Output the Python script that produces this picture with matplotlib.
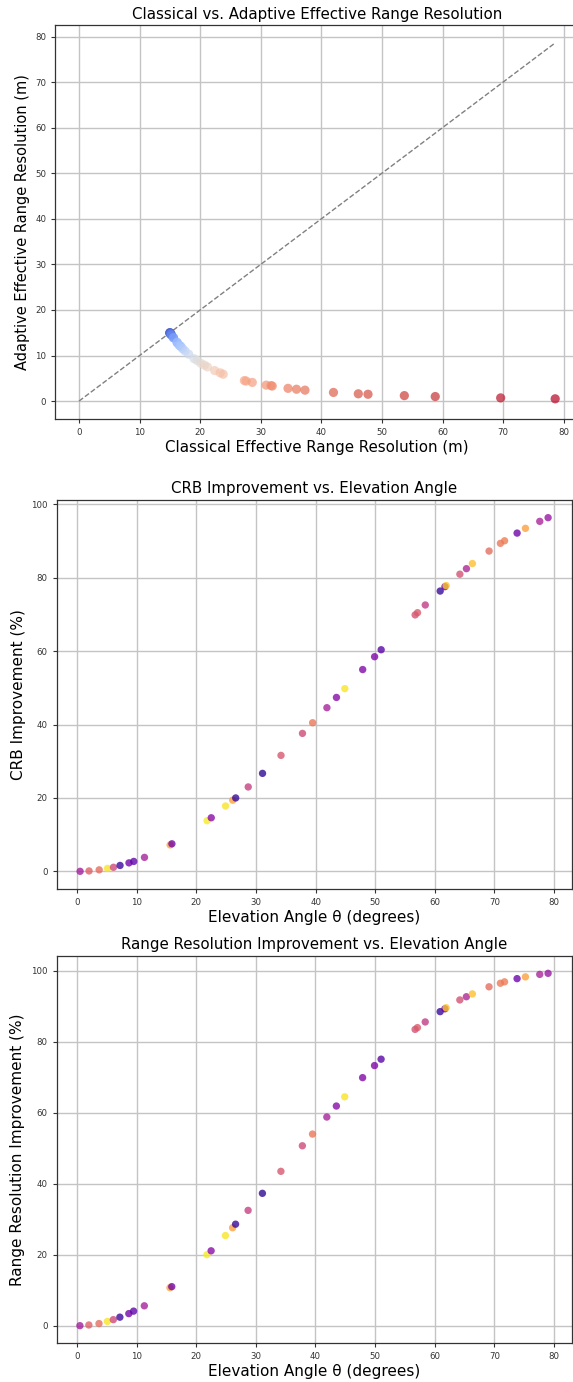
import matplotlib
matplotlib.use("Agg")
import matplotlib.pyplot as plt

# Elevation angles (degrees)
theta = [0.5, 2.0, 3.7, 5.1, 6.1, 7.2, 8.7, 9.5, 11.3, 15.6, 15.9, 21.8, 22.5,
         24.9, 26.1, 26.6, 28.7, 31.1, 34.2, 37.8, 39.5, 41.9, 43.5, 44.9, 47.9,
         49.9, 51.0, 56.7, 57.1, 58.4, 60.9, 61.7, 61.9, 64.2, 65.3, 66.3, 69.1,
         71.0, 71.7, 73.8, 75.2, 77.6, 79.0]

# Classical effective range resolution (m)
classical_res = [15.0, 15.0, 15.0, 15.1, 15.1, 15.1, 15.2, 15.2, 15.3, 15.6, 15.6,
                 16.2, 16.2, 16.5, 16.7, 16.8, 17.1, 17.5, 18.1, 19.0, 19.5, 20.1,
                 20.7, 21.2, 22.4, 23.3, 23.8, 27.3, 27.6, 28.6, 30.9, 31.7, 31.9,
                 34.5, 35.9, 37.3, 42.0, 46.1, 47.7, 53.7, 58.8, 69.6, 78.6]

# Adaptive effective range resolution (m)
adaptive_res = [15.0, 15.0, 14.9, 14.9, 14.8, 14.8, 14.7, 14.6, 14.4, 13.9, 13.9,
                12.9, 12.8, 12.3, 12.1, 12.0, 11.5, 11.0, 10.3, 9.3, 8.9, 8.3,
                7.9, 7.5, 6.7, 6.2, 5.9, 4.5, 4.4, 4.1, 3.5, 3.4, 3.3,
                2.8, 2.6, 2.4, 1.9, 1.6, 1.5, 1.2, 1.0, 0.7, 0.5]

# CRB improvement (%)
crb_impr = [0.0, 0.1, 0.4, 0.8, 1.1, 1.6, 2.3, 2.7, 3.8, 7.2, 7.5,
            13.8, 14.6, 17.8, 19.4, 20.0, 23.0, 26.7, 31.6, 37.6, 40.5, 44.6,
            47.4, 49.8, 55.0, 58.5, 60.4, 69.9, 70.5, 72.6, 76.4, 77.6, 77.9,
            81.0, 82.5, 83.9, 87.3, 89.4, 90.1, 92.2, 93.5, 95.4, 96.4]

# Range resolution improvement (%)
rr_impr = [0.0, 0.2, 0.6, 1.2, 1.7, 2.4, 3.4, 4.1, 5.6, 10.7, 11.0,
           20.0, 21.1, 25.4, 27.6, 28.6, 32.5, 37.3, 43.5, 50.7, 54.0, 58.8,
           61.9, 64.5, 69.9, 73.3, 75.1, 83.5, 84.0, 85.6, 88.5, 89.3, 89.6,
           91.8, 92.7, 93.5, 95.5, 96.5, 96.9, 97.8, 98.3, 99.0, 99.3]

# Colour value per point (plasma colormap)
color_val = [0.35, 0.58, 0.62, 0.95, 0.50, 0.08, 0.22, 0.17, 0.36, 0.80, 0.22,
             0.97, 0.28, 0.95, 0.78, 0.07, 0.47, 0.05, 0.55, 0.50, 0.65, 0.36,
             0.27, 0.95, 0.26, 0.25, 0.15, 0.53, 0.56, 0.45, 0.07, 0.20, 0.88,
             0.53, 0.38, 0.86, 0.62, 0.66, 0.67, 0.20, 0.78, 0.37, 0.32]

plt.rcParams['font.family'] = ['DejaVu Sans']
TITLE_FS = 10.8
LABEL_FS = 11
TICK_FS = 6.2

fig = plt.figure(figsize=(5.73, 13.82), dpi=100)
W, H = 573.0, 1382.0

def add_ax(left, right, top, bottom):
    return fig.add_axes([left / W, 1 - bottom / H, (right - left) / W, (bottom - top) / H])

ax1 = add_ax(55.2, 579, 25, 419)
ax2 = add_ax(56.7, 571.5, 500, 889)
ax3 = add_ax(56.5, 571.5, 955.7, 1343.3)

def style(ax):
    ax.grid(True, color='#c4c4c4', linewidth=1.0)
    ax.set_axisbelow(True)
    ax.tick_params(labelsize=TICK_FS, colors='#333333', length=3, width=0.8)
    for s in ax.spines.values():
        s.set_color('#333333')
        s.set_linewidth(0.9)

# Plot 1
ax1.scatter(classical_res, adaptive_res, c=theta, cmap='coolwarm', s=44,
            alpha=0.7, edgecolors='none', zorder=3)
mx = max(classical_res)
ax1.plot([0, mx], [0, mx], linestyle='--', color='gray', linewidth=1.0, zorder=2)
ax1.set_title('Classical vs. Adaptive Effective Range Resolution', fontsize=TITLE_FS, pad=4.5)
ax1.set_xlabel('Classical Effective Range Resolution (m)', fontsize=10.8, labelpad=2)
ax1.set_ylabel('Adaptive Effective Range Resolution (m)', fontsize=10.5)
style(ax1)

# Plot 2
ax2.scatter(theta, crb_impr, c=color_val, cmap='plasma', vmin=0, vmax=1, s=28,
            alpha=0.78, edgecolors='none', zorder=3)
ax2.set_title('CRB Improvement vs. Elevation Angle', fontsize=TITLE_FS, pad=5)
ax2.set_xlabel('Elevation Angle θ (degrees)', fontsize=LABEL_FS, labelpad=2)
ax2.set_ylabel('CRB Improvement (%)', fontsize=LABEL_FS)
style(ax2)

# Plot 3
ax3.scatter(theta, rr_impr, c=color_val, cmap='plasma', vmin=0, vmax=1, s=28,
            alpha=0.78, edgecolors='none', zorder=3)
ax3.set_title('Range Resolution Improvement vs. Elevation Angle', fontsize=TITLE_FS, pad=5)
ax3.set_xlabel('Elevation Angle θ (degrees)', fontsize=LABEL_FS, labelpad=2)
ax3.set_ylabel('Range Resolution Improvement (%)', fontsize=LABEL_FS)
style(ax3)

for ax in (ax1, ax2, ax3):
    ax.set_xticks([0, 10, 20, 30, 40, 50, 60, 70, 80])
ax1.set_yticks([0, 10, 20, 30, 40, 50, 60, 70, 80])
ax2.set_yticks([0, 20, 40, 60, 80, 100])
ax3.set_yticks([0, 20, 40, 60, 80, 100])

fig.savefig('out.png', dpi=100)
